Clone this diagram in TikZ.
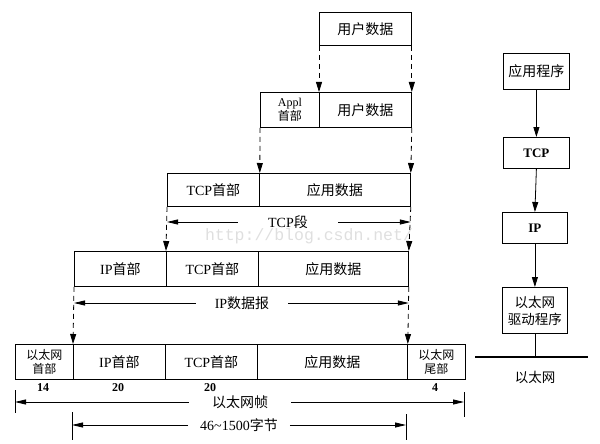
\documentclass[tikz,border=0pt]{standalone}
\usepackage{fontspec}
\setmainfont{Liberation Serif}
\setmonofont{Liberation Mono}
\newfontfamily\cjk{Noto Sans CJK SC}
\newcommand{\zh}[1]{{\cjk #1}}
\usetikzlibrary{arrows.meta}
\begin{document}
\begin{tikzpicture}[x=1pt,y=-1pt,
  box/.style={draw, line width=0.8pt, anchor=north west, inner sep=0pt, font=\fontsize{14}{16}\selectfont},
  smallbox/.style={box, align=center, font=\fontsize{12}{13.5}\selectfont},
  dasharrow/.style={line width=0.8pt, dash pattern=on 5pt off 4pt, -{Triangle[length=10pt,width=6pt]}},
  dimarrow/.style={line width=0.8pt, -{Triangle[length=11pt,width=5pt]}},
  dimlabel/.style={inner ysep=0pt, font=\fontsize{14}{16}\selectfont},
  tickline/.style={line width=0.8pt},
  numlabel/.style={font=\bfseries\fontsize{12}{12}\selectfont, inner sep=0pt},
  flowarrow/.style={line width=0.8pt, -{Triangle[length=10pt,width=6pt]}},
  watermark/.style={text=gray!25, font=\ttfamily\fontsize{16.5}{16.5}\selectfont, inner sep=0pt}
]
\useasboundingbox (0,0) rectangle (600,444);

% watermark
\node[watermark] (wm) at (309,236) {http://blog.csdn.net/};

% row 1
\node[box, minimum width=92pt, minimum height=33pt] (ud1) at (319,12) {\zh{用户数据}};
% row 2
\node[smallbox, minimum width=59pt, minimum height=35pt] (appl) at (260,92) {Appl\\\zh{首部}};
\node[box, minimum width=92pt, minimum height=35pt] (ud2) at (319,92) {\zh{用户数据}};
% row 3
\node[box, minimum width=92pt, minimum height=33pt] (tcph3) at (167,173) {TCP\zh{首部}};
\node[box, minimum width=151pt, minimum height=33pt] (app3) at (259,173) {\zh{应用数据}};
% row 4
\node[box, minimum width=92pt, minimum height=35pt] (iph4) at (74,251) {IP\zh{首部}};
\node[box, minimum width=92pt, minimum height=35pt] (tcph4) at (166,251) {TCP\zh{首部}};
\node[box, minimum width=150pt, minimum height=35pt] (app4) at (258,251) {\zh{应用数据}};
% row 5
\node[smallbox, minimum width=58pt, minimum height=35pt] (eh5) at (15,344) {\zh{以太网}\\\zh{首部}};
\node[box, minimum width=92pt, minimum height=35pt] (iph5) at (73,344) {IP\zh{首部}};
\node[box, minimum width=92pt, minimum height=35pt] (tcph5) at (165,344) {TCP\zh{首部}};
\node[box, minimum width=150pt, minimum height=35pt] (app5) at (257,344) {\zh{应用数据}};
\node[smallbox, minimum width=58pt, minimum height=35pt] (et5) at (407,344) {\zh{以太网}\\\zh{尾部}};

% dashed arrows
\draw[dasharrow] (ud1.south west) -- (ud2.north west);
\draw[dasharrow] (ud1.south east) -- (ud2.north east);
\draw[dasharrow] (appl.south west) -- (tcph3.north east);
\draw[dasharrow] (ud2.south east) -- (app3.north east);
\draw[dasharrow] (tcph3.south west) -- (tcph4.north west);
\draw[dasharrow] (app3.south east) -- (app4.north east);
\draw[dasharrow] (iph4.south west) -- (iph5.north west);
\draw[dasharrow] (app4.south east) -- (app5.north east);

% TCP segment
\node[dimlabel, inner xsep=30pt] (tcpseg) at (288,222) {TCP\zh{段}};
\draw[dimarrow] (tcpseg.west) -- (tcpseg.west -| tcph3.south west);
\draw[dimarrow] (tcpseg.east) -- (tcpseg.east -| app3.south east);

% IP datagram
\node[dimlabel, inner xsep=19pt] (ipdg) at (242,303) {IP\zh{数据报}};
\draw[dimarrow] (ipdg.west) -- (ipdg.west -| iph4.south west);
\draw[dimarrow] (ipdg.east) -- (ipdg.east -| app4.south east);

% byte counts
\node[numlabel] (n14) at (43,388) {14};
\node[numlabel] (n20a) at (118,388) {20};
\node[numlabel] (n20b) at (210,388) {20};
\node[numlabel] (n4) at (435,388) {4};

% ethernet frame
\coordinate (tA1) at (15,390); \coordinate (tA2) at (15,413);
\coordinate (tB1) at (464,392); \coordinate (tB2) at (464,417);
\draw[tickline] (tA1) -- (tA2);
\draw[tickline] (tB1) -- (tB2);
\node[dimlabel, inner xsep=23pt] (frame) at (240,402) {\zh{以太网帧}};
\draw[dimarrow] (frame.west) -- (frame.west -| tA1);
\draw[dimarrow] (frame.east) -- (frame.east -| tB1);

% 46~1500 bytes
\coordinate (tC1) at (72,412); \coordinate (tC2) at (72,440);
\coordinate (tD1) at (406,414); \coordinate (tD2) at (406,440);
\draw[tickline] (tC1) -- (tC2);
\draw[tickline] (tD1) -- (tD2);
\node[dimlabel, inner xsep=12pt] (bytes) at (239,425) {46\textasciitilde1500\zh{字节}};
\draw[dimarrow] (bytes.west) -- (bytes.west -| tC1);
\draw[dimarrow] (bytes.east) -- (bytes.east -| tD1);

% right column
\node[box, minimum width=66pt, minimum height=36pt] (appR) at (503,53) {\zh{应用程序}};
\node[box, minimum width=66pt, minimum height=31pt, font=\bfseries\fontsize{13}{15}\selectfont] (tcpR) at (503,137) {TCP};
\node[box, minimum width=65pt, minimum height=31pt, font=\bfseries\fontsize{13}{15}\selectfont] (ipR) at (502,212) {IP};
\node[smallbox, minimum width=65pt, minimum height=46pt, font=\fontsize{13.5}{17}\selectfont] (drv) at (502,287) {\zh{以太网}\\\zh{驱动程序}};
\draw[flowarrow] (appR.south) -- (tcpR.north);
\draw[flowarrow] (tcpR.south) -- (ipR.north);
\draw[flowarrow] (ipR.south) -- (drv.north);
\coordinate (ethL) at (475,357);
\coordinate (ethR) at (588,357);
\draw[line width=2.2pt] (ethL) -- (ethR);
\draw[line width=0.8pt] (drv.south) -- (drv.south |- ethL);
\node[font=\fontsize{13.5}{14}\selectfont, inner sep=0pt] (ethlabel) at (535,377) {\zh{以太网}};
\end{tikzpicture}
\end{document}
